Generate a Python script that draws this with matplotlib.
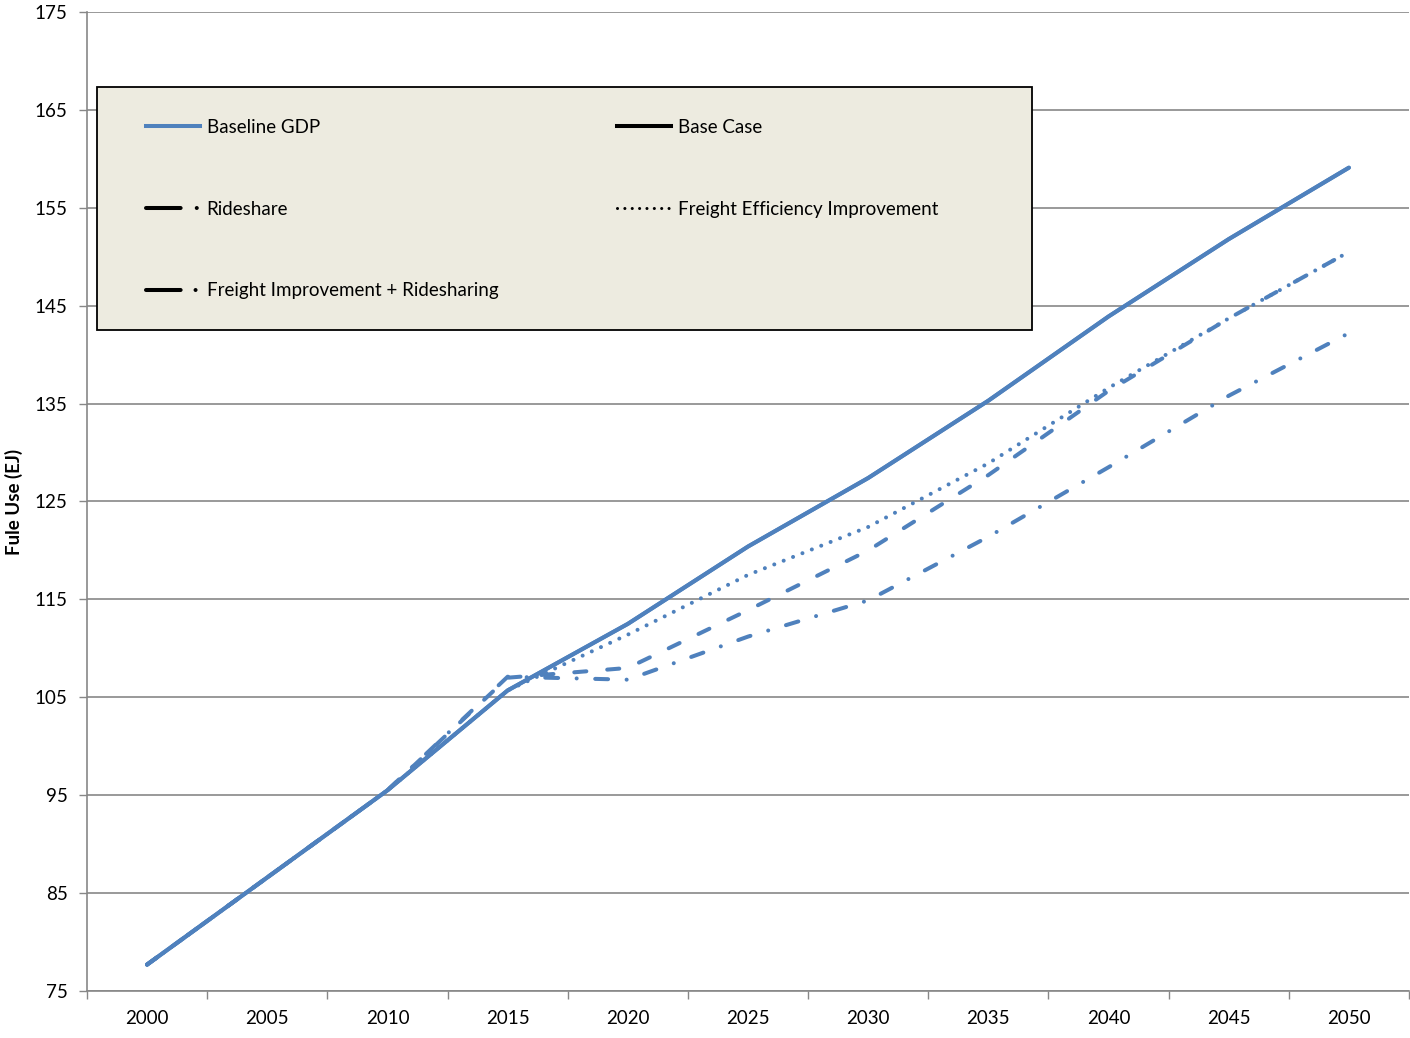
import matplotlib
matplotlib.use("Agg")
import matplotlib.pyplot as plt
from matplotlib.lines import Line2D
from matplotlib.patches import Rectangle

plt.rcParams['font.family'] = ['Lato', 'DejaVu Sans']

# data (5-year steps)
years = [2000, 2005, 2010, 2015, 2020, 2025, 2030, 2035, 2040, 2045, 2050]
baseline_gdp = [77.7, 86.6, 95.5, 105.7, 112.5, 120.4, 127.4, 135.3, 143.9, 151.8, 159.1]
base_case = [77.7, 86.6, 95.5, 105.7, 112.5, 120.4, 127.4, 135.3, 143.9, 151.8, 159.1]
rideshare = [77.7, 86.6, 95.5, 107.0, 108.0, 113.9, 120.0, 127.7, 136.3, 143.7, 150.5]
freight_eff = [77.7, 86.6, 95.5, 105.7, 111.4, 117.5, 122.4, 128.9, 136.6, 143.7, 150.5]
freight_ride = [77.7, 86.6, 95.5, 107.1, 106.8, 111.2, 114.9, 121.4, 128.5, 135.8, 142.2]

y_ticks = [75, 85, 95, 105, 115, 125, 135, 145, 155, 165, 175]

blue = '#4F81BD'
grid_c = '#878787'
lw = 2.9

fig = plt.figure(figsize=(14.1, 10.38), dpi=100)
ax = fig.add_axes([87 / 1410, 47 / 1038, 1322 / 1410, 979 / 1038])

ax.plot(years, base_case, color=blue, lw=lw, solid_capstyle='round', zorder=3)
ax.plot(years, baseline_gdp, color=blue, lw=lw, solid_capstyle='round', zorder=4)
ax.plot(years, freight_eff, color=blue, lw=lw, linestyle=(0, (0.01, 2.5)),
        dash_capstyle='round', zorder=4)
ax.plot(years, rideshare, color=blue, lw=lw, linestyle=(0, (3.0, 5.2)),
        dash_capstyle='round', zorder=4)
ax.plot(years, freight_ride, color=blue, lw=lw, linestyle=(0, (3.2, 4.6, 0.01, 4.6)),
        dash_capstyle='round', zorder=4)

ax.set_xlim(1997.5, 2052.5)
ax.set_ylim(75, 175)
ax.set_yticks(y_ticks)
ax.set_xticks(years)
ax.set_xticks([y - 2.5 for y in years] + [2052.5], minor=True)
ax.tick_params(axis='x', which='major', length=0, pad=14, labelsize=13.5)
ax.tick_params(axis='x', which='minor', length=6, color=grid_c, width=1)
ax.tick_params(axis='y', length=6, color=grid_c, width=1, labelsize=13.5, pad=8)

ax.grid(axis='y', color=grid_c, lw=1.2)
ax.set_axisbelow(True)
for s in ['top', 'right']:
    ax.spines[s].set_visible(False)
for s in ['left', 'bottom']:
    ax.spines[s].set_color(grid_c)
    ax.spines[s].set_linewidth(1.2)

ax.set_ylabel('Fule Use (EJ)', fontsize=13.5, fontweight='bold', labelpad=8)

# legend box
ax.add_patch(Rectangle((10 / 1322, (991 - 330) / 979), 935 / 1322, 243 / 979,
                       transform=ax.transAxes, facecolor='#EDEBE0',
                       edgecolor='black', lw=1.3, zorder=5))

h_base = Line2D([], [], color=blue, lw=lw)
h_case = Line2D([], [], color='black', lw=lw)
h_ride = Line2D([], [], color='black', lw=lw, linestyle=(0, (8.6, 4.0, 0.01, 9)),
                dash_capstyle='round')
h_feff = Line2D([], [], color='black', lw=2.2, linestyle=(0, (0.01, 2.4)),
                dash_capstyle='round')
h_fr = Line2D([], [], color='black', lw=lw, linestyle=(0, (8.6, 3.7, 0.01, 9)),
              dash_capstyle='round')
handles = [h_base, h_ride, h_fr, h_case, h_feff]
labels = ['Baseline GDP', 'Rideshare', 'Freight Improvement + Ridesharing',
          'Base Case', 'Freight Efficiency Improvement']
leg = ax.legend(handles, labels, ncol=2, mode='expand', loc='upper left',
                bbox_to_anchor=(59 / 1322, (991 - 119) / 979, 792 / 1322, 0),
                frameon=False, fontsize=13.5, handlelength=2.9, handletextpad=0.33,
                labelspacing=3.45, borderpad=0, borderaxespad=0)
leg.set_zorder(6)

fig.savefig('out.png', dpi=100)
